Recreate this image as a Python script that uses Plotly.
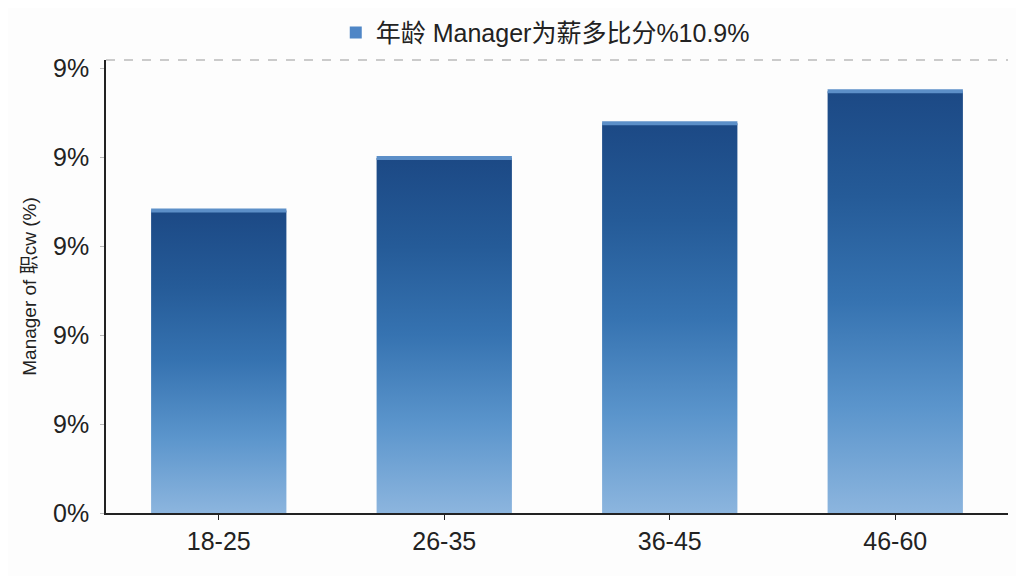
import plotly.graph_objects as go

categories = ["18-25", "26-35", "36-45", "46-60"]
values = [6.8, 7.98, 8.76, 9.48]
tick_values = [0, 2, 4, 6, 8, 10]
tick_labels = ["0%", "9%", "9%", "9%", "9%", "9%"]
legend_name = "年龄 Manager为薪多比分%10.9%"
y_title = "Manager of 职cw (%)"

FONT = "Liberation Sans, Arial, Noto Sans CJK SC, sans-serif"
half = 0.3
GRADIENT = [[0, "#8cb5de"], [0.25, "#5b95cc"], [0.5, "#3673b1"], [0.75, "#255b98"], [1, "#1c4985"]]

fig = go.Figure()
for i, (c, v) in enumerate(zip(categories, values)):
    xs = [i - half, i + half, i + half, i - half, i - half]
    ys = [0, 0, v, v, 0]
    fig.add_trace(go.Scatter(
        x=xs, y=ys, mode="lines", fill="toself",
        line=dict(width=0, color="rgba(0,0,0,0)"),
        fillgradient=dict(type="vertical", start=0, stop=v, colorscale=GRADIENT),
        showlegend=False, hoverinfo="skip",
    ))
    fig.add_trace(go.Scatter(
        x=[i - half, i + half], y=[v, v], mode="lines",
        line=dict(width=4, color="#5c8fc8"),
        showlegend=False, hoverinfo="skip",
    ))

# legend entry
fig.add_trace(go.Scatter(
    x=[None], y=[None], mode="markers", name=legend_name,
    marker=dict(symbol="square", size=14, color="#4f86c6"),
))

fig.update_layout(
    width=1008, height=576,
    margin=dict(l=98, r=8, t=52, b=71, autoexpand=False),
    paper_bgcolor="#fdfdfd", plot_bgcolor="#fdfdfd",
    font=dict(family=FONT, color="#222222"),
    showlegend=True,
    legend=dict(orientation="h", x=0.533, xanchor="center", xref="container",
                y=0.957, yanchor="middle", yref="container",
                font=dict(size=25, color="#222222"),
                bgcolor="rgba(0,0,0,0)", itemsizing="constant", itemwidth=30),
    xaxis=dict(range=[-0.5, 3.5], tickvals=list(range(len(categories))), ticktext=categories,
               showgrid=False, zeroline=False, showline=True, linecolor="#222222", linewidth=1.5,
               ticks="outside", ticklen=5, tickcolor="#222222",
               tickfont=dict(size=25, color="#222222")),
    yaxis=dict(range=[0, 10.18], tickvals=tick_values, ticktext=tick_labels,
               showgrid=False, zeroline=False, showline=True, linecolor="#222222", linewidth=1.5,
               ticks="outside", ticklen=4, tickcolor="#bbbbbb", ticklabelstandoff=6,
               tickfont=dict(size=25, color="#222222"),
               title=dict(text=y_title, font=dict(size=19, color="#222222"), standoff=11)),
    shapes=[dict(type="line", xref="paper", yref="paper", x0=0, x1=1, y0=1, y1=1,
                 line=dict(color="#bbbbbb", width=1.5, dash="dash"))],
)

fig.write_html("out.html")
